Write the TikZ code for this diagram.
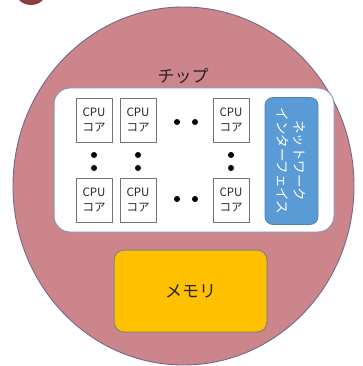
\documentclass[tikz,border=0pt]{standalone}
\usepackage{fontspec}
\setmainfont{Noto Sans CJK JP}
\usetikzlibrary{shapes.geometric}
\definecolor{pinkfill}{RGB}{204,134,139}
\definecolor{pinkedge}{RGB}{115,105,135}
\definecolor{chipedge}{RGB}{140,150,185}
\definecolor{netblue}{RGB}{91,155,213}
\definecolor{netedge}{RGB}{75,130,185}
\definecolor{memfill}{RGB}{255,192,0}
\definecolor{memedge}{RGB}{130,130,130}
\definecolor{badge}{RGB}{140,62,62}
\begin{document}
\begin{tikzpicture}[x=1pt,y=-1pt,
  core/.style={draw=black!55, fill=white, line width=0.8pt, minimum width=36pt, minimum height=44pt, inner sep=0pt, align=center, font=\fontsize{11.5}{15}\selectfont, text=black!85},
  dotmark/.style={circle, fill=black, inner sep=0pt, minimum size=6pt}]
\useasboundingbox (0,0) rectangle (363,366);
\begin{scope}
\clip (0,0) rectangle (363,366);
\fill[badge] (31,-12) circle (17);
\node[ellipse, draw=pinkedge, line width=0.9pt, fill=pinkfill, minimum width=341pt, minimum height=358pt, inner sep=0pt] (outer) at (183.5,186) {};
\end{scope}
\node[draw=chipedge, line width=1pt, fill=white, rounded corners=16pt, minimum width=280pt, minimum height=144pt, inner sep=0pt] (chip) at (194,160) {};
\node[font=\fontsize{17}{20}\selectfont, text=black!85] (chiplabel) at (183,76) {チップ};
\node[core] (c11) at (94,120) {CPU\\コア};
\node[core] (c12) at (138,120) {CPU\\コア};
\node[core] (c13) at (231,120) {CPU\\コア};
\node[core] (c21) at (94,200) {CPU\\コア};
\node[core] (c22) at (138,200) {CPU\\コア};
\node[core] (c23) at (231,200) {CPU\\コア};
\node[dotmark] (h1) at (177,122) {};
\node[dotmark] (h2) at (195,122) {};
\node[dotmark] (h3) at (177,199) {};
\node[dotmark] (h4) at (195,199) {};
\node[dotmark] (v1) at (94,155) {};
\node[dotmark] (v2) at (94,168) {};
\node[dotmark] (v3) at (138,155) {};
\node[dotmark] (v4) at (138,168) {};
\node[dotmark] (v5) at (231,155) {};
\node[dotmark] (v6) at (231,168) {};
\node[draw=netedge, line width=0.8pt, fill=netblue, rounded corners=8pt, minimum width=53pt, minimum height=127pt, inner sep=0pt] (net) at (291.5,161) {};
\node[rotate=-90, align=center, text=white, font=\fontsize{13.5}{17}\selectfont] (nettext) at (net.center) {ネットワーク\\インターフェイス};
\node[draw=memedge, line width=1pt, fill=memfill, rounded corners=10pt, minimum width=153pt, minimum height=82pt, inner sep=0pt, font=\fontsize{17}{20}\selectfont, text=black!85] (mem) at (190.5,291) {メモリ};
\end{tikzpicture}
\end{document}
